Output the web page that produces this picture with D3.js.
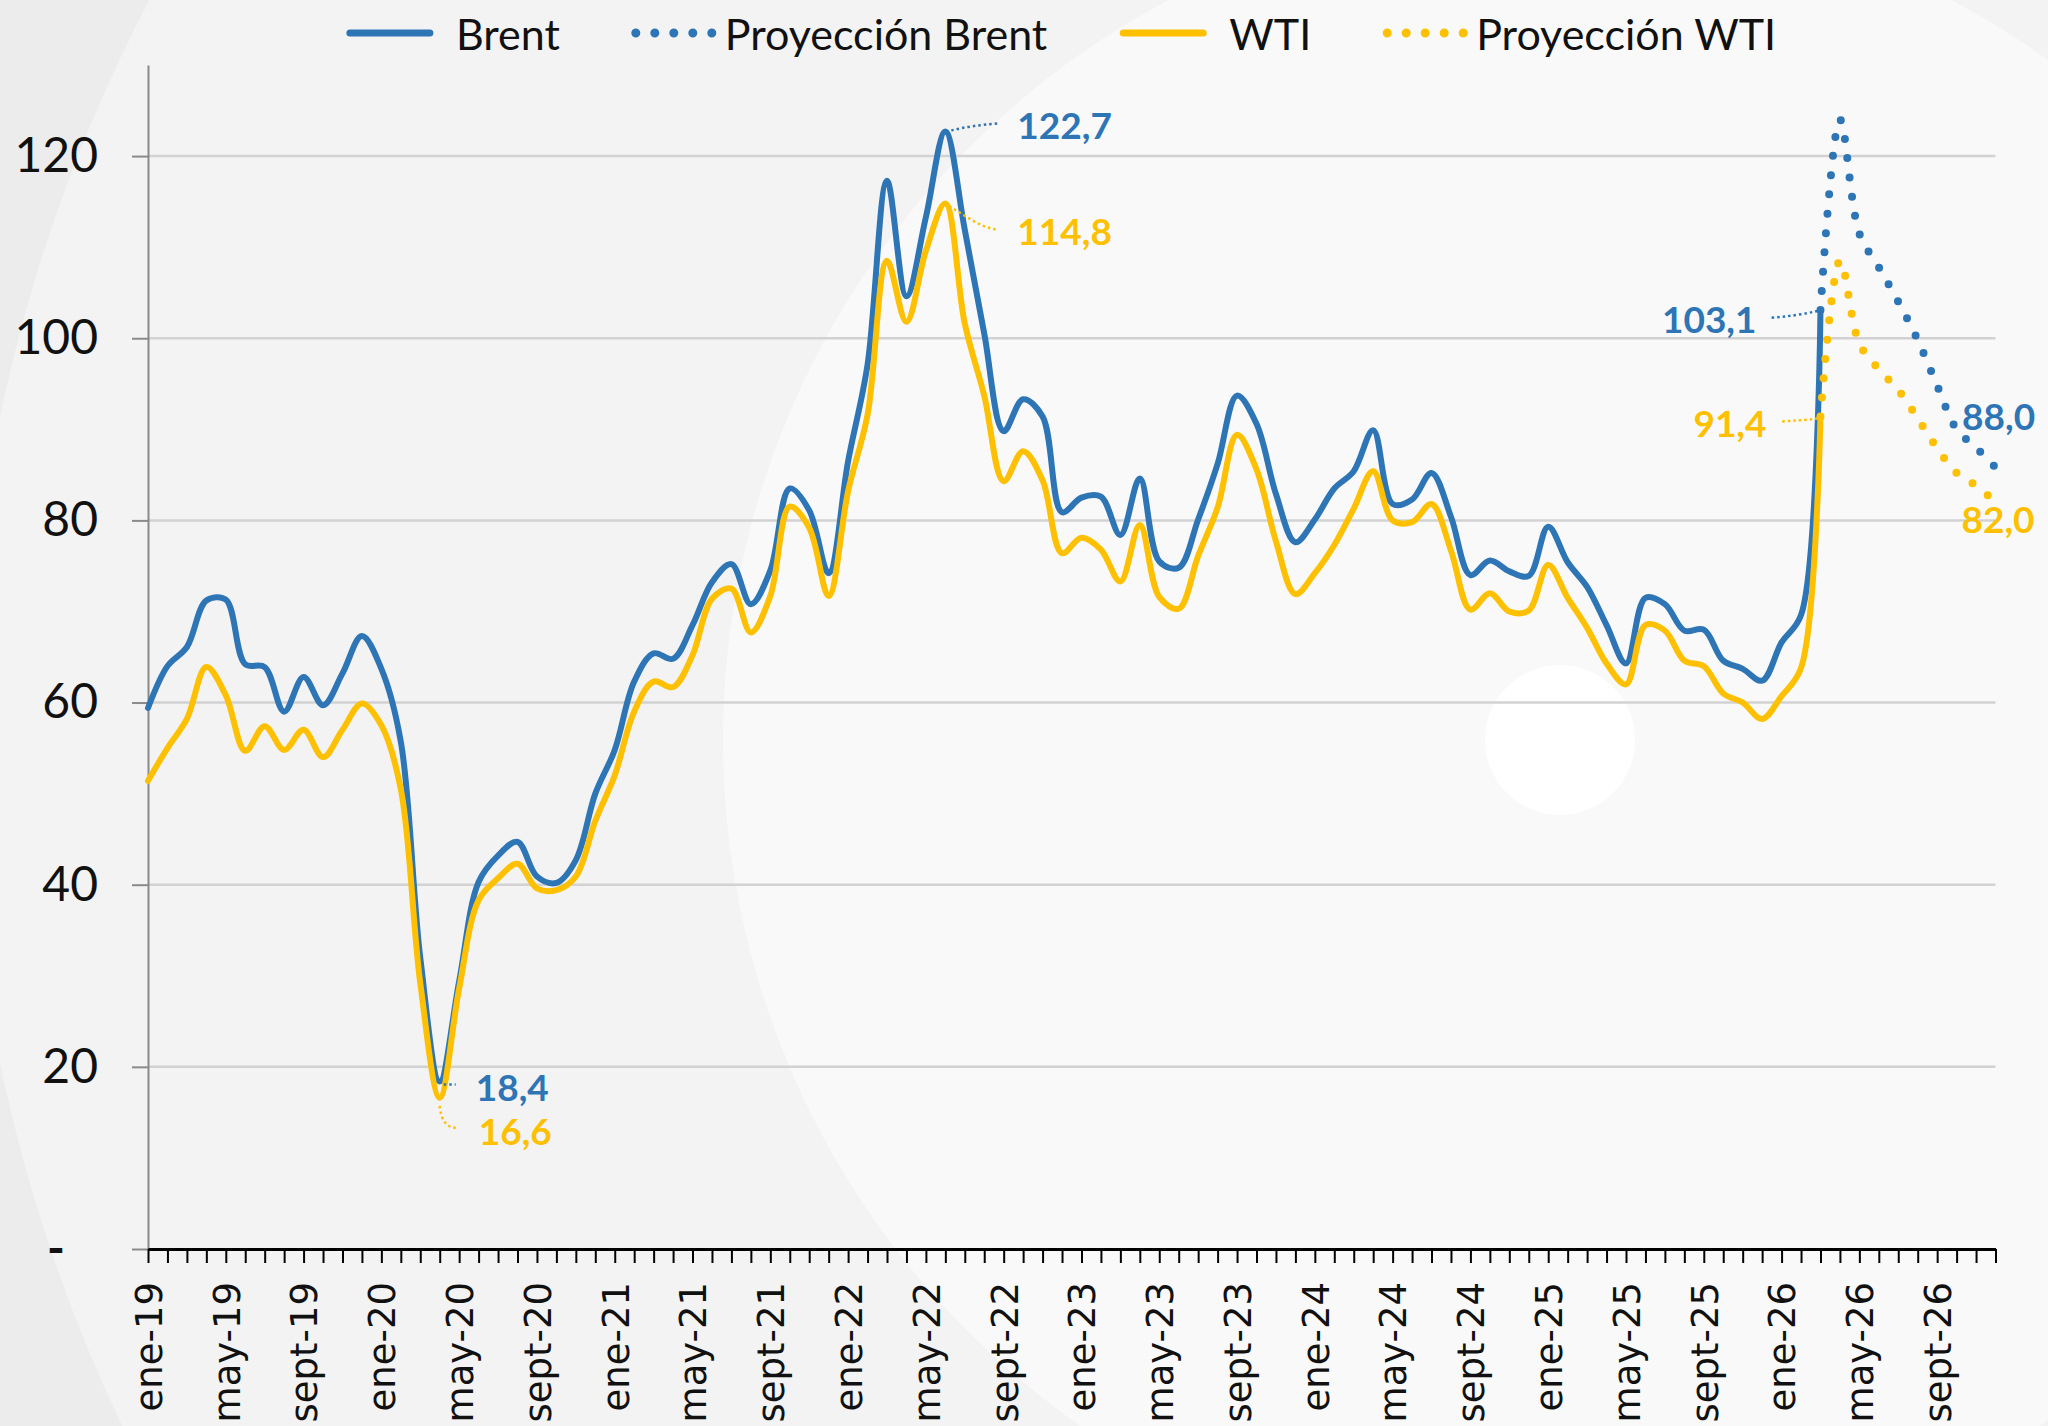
<!DOCTYPE html>
<html lang="es">
<head>
<meta charset="utf-8">
<title>Brent y WTI</title>
<script src="https://cdnjs.cloudflare.com/ajax/libs/d3/7.8.5/d3.min.js"></script>
<style>
  body { margin: 0; background: #f3f3f3; }
  svg { display: block; }
  .eje text { font-family: Lato, sans-serif; }
  .ejeX text { font-family: "DejaVu Sans", sans-serif; }
  .nota { font-family: Lato, sans-serif; font-weight: 700; font-size: 37px; }
  .ley { font-family: Lato, sans-serif; font-size: 43px; fill: #111; }
</style>
</head>
<body>
<svg id="grafico" width="2048" height="1426"></svg>
<script>
// categorias: ene-19 .. dic-26
var mesesCortos = ["ene", "feb", "mar", "abr", "may", "jun", "jul", "ago", "sept", "oct", "nov", "dic"];
var anios = ["19", "20", "21", "22", "23", "24", "25", "26"];
var meses = anios.flatMap(a => mesesCortos.map(m => m + "-" + a));

// US$/barril, ene-19 .. mar-26
var brent = [
  59.4, 64.0, 66.1, 71.2, 71.3, 64.2, 63.9, 59.0, 62.8, 59.7, 63.2, 67.3,
  63.7, 55.7, 32.0, 18.4, 29.4, 40.3, 43.2, 44.7, 40.9, 40.2, 42.7, 50.0,
  54.8, 62.3, 65.4, 64.8, 68.5, 73.2, 75.2, 70.8, 74.5, 83.5, 81.1, 74.2,
  86.5, 97.1, 117.3, 104.6, 113.3, 122.7, 111.9, 100.5, 89.8, 93.3, 91.4, 80.9,
  82.5, 82.6, 78.4, 84.6, 75.5, 74.8, 80.1, 86.2, 93.7, 90.6, 82.9, 77.6,
  80.1, 83.5, 85.4, 89.9, 81.8, 82.3, 85.2, 80.4, 74.0, 75.6, 74.4, 73.9,
  79.3, 75.4, 72.7, 68.5, 64.3, 71.5, 70.8, 67.9, 68.0, 64.6, 63.7, 62.4,
  66.6, 69.6, 103.1
];
var wti = [
  51.4, 55.0, 58.2, 63.9, 60.8, 54.7, 57.4, 54.8, 57.0, 54.0, 57.0, 59.9,
  57.5, 50.5, 29.2, 16.6, 28.6, 38.3, 40.7, 42.3, 39.6, 39.4, 40.9, 47.0,
  52.0, 59.0, 62.3, 61.7, 65.2, 71.4, 72.5, 67.7, 71.7, 81.5, 79.2, 71.7,
  83.2, 91.6, 108.5, 101.8, 109.6, 114.8, 101.6, 93.7, 84.3, 87.6, 84.4, 76.4,
  78.1, 76.8, 73.3, 79.5, 71.6, 70.3, 76.1, 81.4, 89.4, 85.6, 77.7, 71.9,
  74.2, 77.3, 81.3, 85.4, 80.0, 79.8, 81.8, 76.7, 70.2, 72.0, 70.0, 70.1,
  75.1, 71.5, 68.2, 64.3, 62.0, 68.5, 67.9, 64.6, 64.0, 61.0, 60.0, 58.2,
  60.7, 63.8, 91.4
];
// proyecciones, mar-26 .. dic-26
var inicioProy = "mar-26";
var proyBrent = [103.1, 124.0, 111.5, 107.8, 104.0, 99.8, 94.8, 90.0, 88.0, 85.8];
var proyWti = [91.4, 108.5, 99.4, 96.6, 94.3, 91.2, 87.9, 85.2, 83.8, 82.0];

var yTicks = [0, 20, 40, 60, 80, 100, 120];
var xTickCada = 4;

var notas = [
  { mes: "jun-22", valor: 122.7, texto: "122,7", serie: "brent" },
  { mes: "jun-22", valor: 114.8, texto: "114,8", serie: "wti" },
  { mes: "abr-20", valor: 18.4, texto: "18,4", serie: "brent" },
  { mes: "abr-20", valor: 16.6, texto: "16,6", serie: "wti" },
  { mes: "mar-26", valor: 103.1, texto: "103,1", serie: "brent" },
  { mes: "mar-26", valor: 91.4, texto: "91,4", serie: "wti" },
  { mes: "nov-26", valor: 88.0, texto: "88,0", serie: "brent" },
  { mes: "dic-26", valor: 82.0, texto: "82,0", serie: "wti" }
];
// desplazamiento de cada etiqueta y su guia punteada (px)
var notasPos = {
  "122,7": { dx: 72, dy: -7, anc: "start", guia: "M6,-1 Q25,-6 53,-8" },
  "114,8": { dx: 72, dy: 27, anc: "start", guia: "M4,3 C20,12 38,26 53,26" },
  "18,4": { dx: 36, dy: 5, anc: "start", guia: "M4,3 L16,3" },
  "16,6": { dx: 39, dy: 33, anc: "start", guia: "M0,8 Q2,30 17,30" },
  "103,1": { dx: -64, dy: 9, anc: "end", guia: "M-3,1 Q-25,6 -51,8" },
  "91,4": { dx: -54, dy: 6, anc: "end", guia: "M-3,2 Q-20,4 -41,5" },
  "88,0": { dx: -14, dy: -32, anc: "start", guia: null },
  "82,0": { dx: -34, dy: 16, anc: "start", guia: null }
};

var colores = { brent: "#2e75b6", wti: "#ffc000" };

var svg = d3.select("#grafico");

// fondo con circulos concentricos
svg.append("rect").attr("width", 2048).attr("height", 1426).attr("fill", "#ececec");
svg.append("circle").attr("cx", 1560).attr("cy", 740).attr("r", 1593).attr("fill", "#f3f3f3");
svg.append("circle").attr("cx", 1560).attr("cy", 740).attr("r", 837).attr("fill", "#f9f9f9");
svg.append("circle").attr("cx", 1560).attr("cy", 740).attr("r", 75).attr("fill", "#ffffff");

var x = d3.scalePoint().domain(meses).range([148, 1995.5]);
var y = d3.scaleLinear().domain([0, 130]).range([1249, 65]);

// rejilla
svg.append("g").selectAll("line")
  .data(yTicks.filter(d => d > 0))
  .join("line")
  .attr("x1", 148).attr("x2", 1995.5)
  .attr("y1", d => y(d)).attr("y2", d => y(d))
  .attr("stroke", "#d2d2d2").attr("stroke-width", 2.5);

// eje Y
var ejeY = svg.append("g").attr("class", "eje").attr("transform", "translate(148,0)")
  .call(d3.axisLeft(y).tickValues(yTicks).tickSize(16).tickSizeOuter(0).tickPadding(34)
    .tickFormat(d => d === 0 ? "-" : d));
ejeY.select(".domain").attr("stroke", "#8a8a8a").attr("stroke-width", 2);
ejeY.selectAll(".tick line").attr("stroke", "#8a8a8a").attr("stroke-width", 2);
ejeY.selectAll(".tick text").attr("font-size", 48).attr("fill", "#111");
ejeY.selectAll(".tick text").filter(d => d === 0)
  .attr("x", -101).attr("text-anchor", "start").attr("font-weight", 700);

// eje X
var ejeX = svg.append("g").attr("class", "eje ejeX").attr("transform", "translate(0," + y(0) + ")")
  .call(d3.axisBottom(x).tickSize(14).tickSizeOuter(0)
    .tickFormat((d, i) => i % xTickCada === 0 ? d : ""));
ejeX.select(".domain").attr("stroke", "#000").attr("stroke-width", 3);
ejeX.selectAll(".tick line").attr("stroke", "#000").attr("stroke-width", 2);
ejeX.selectAll(".tick text")
  .attr("transform", "rotate(-90)")
  .attr("text-anchor", "end")
  .attr("x", -33).attr("y", 0).attr("dy", "0.36em")
  .attr("font-size", 37).attr("fill", "#111");

// series
var curva = d3.curveCatmullRom.alpha(0.5);
var i0 = meses.indexOf(inicioProy);
var linea = d3.line().x((d, i) => x(meses[i])).y(d => y(d)).curve(curva);
var lineaProy = d3.line().x((d, i) => x(meses[i0 + i])).y(d => y(d)).curve(curva);

var series = [
  { datos: brent, gen: linea, color: colores.brent, punteado: false },
  { datos: proyBrent, gen: lineaProy, color: colores.brent, punteado: true },
  { datos: wti, gen: linea, color: colores.wti, punteado: false },
  { datos: proyWti, gen: lineaProy, color: colores.wti, punteado: true }
];
series.forEach(s => {
  svg.append("path")
    .attr("d", s.gen(s.datos))
    .attr("fill", "none")
    .attr("stroke", s.color)
    .attr("stroke-width", s.punteado ? 8 : 6)
    .attr("stroke-linecap", "round")
    .attr("stroke-linejoin", "round")
    .attr("stroke-dasharray", s.punteado ? "0 19.3" : null);
});

// etiquetas de datos
notas.forEach(n => {
  var p = notasPos[n.texto];
  var g = svg.append("g").attr("transform", "translate(" + x(n.mes) + "," + y(n.valor) + ")");
  if (p.guia) {
    g.append("path").attr("d", p.guia).attr("fill", "none")
      .attr("stroke", colores[n.serie]).attr("stroke-width", 2.5)
      .attr("stroke-dasharray", "2.5 3");
  }
  g.append("text").attr("class", "nota")
    .attr("x", p.dx).attr("y", p.dy)
    .attr("dominant-baseline", "central")
    .attr("text-anchor", p.anc)
    .attr("fill", colores[n.serie])
    .text(n.texto);
});

// leyenda
var leyenda = [
  { nombre: "Brent", color: colores.brent, punteado: false },
  { nombre: "Proyección Brent", color: colores.brent, punteado: true },
  { nombre: "WTI", color: colores.wti, punteado: false },
  { nombre: "Proyección WTI", color: colores.wti, punteado: true }
];
var gl = svg.append("g");
var cx = 0;
leyenda.forEach(l => {
  var item = gl.append("g").attr("transform", "translate(" + cx + ",33)");
  if (l.punteado) {
    item.append("line").attr("x1", 4).attr("x2", 82).attr("y1", 0).attr("y2", 0)
      .attr("stroke", l.color).attr("stroke-width", 9).attr("stroke-linecap", "round")
      .attr("stroke-dasharray", "0 19");
  } else {
    item.append("line").attr("x1", 4).attr("x2", 84).attr("y1", 0).attr("y2", 0)
      .attr("stroke", l.color).attr("stroke-width", 7).attr("stroke-linecap", "round");
  }
  var t = item.append("text").attr("class", "ley")
    .attr("x", l.punteado ? 93 : 110).attr("y", 0)
    .attr("dominant-baseline", "central")
    .text(l.nombre);
  cx += (l.punteado ? 93 : 110) + t.node().getComputedTextLength() + 72;
});
var anchoLey = cx - 72;
gl.attr("transform", "translate(" + (1061 - anchoLey / 2) + ",0)");
</script>
</body>
</html>
